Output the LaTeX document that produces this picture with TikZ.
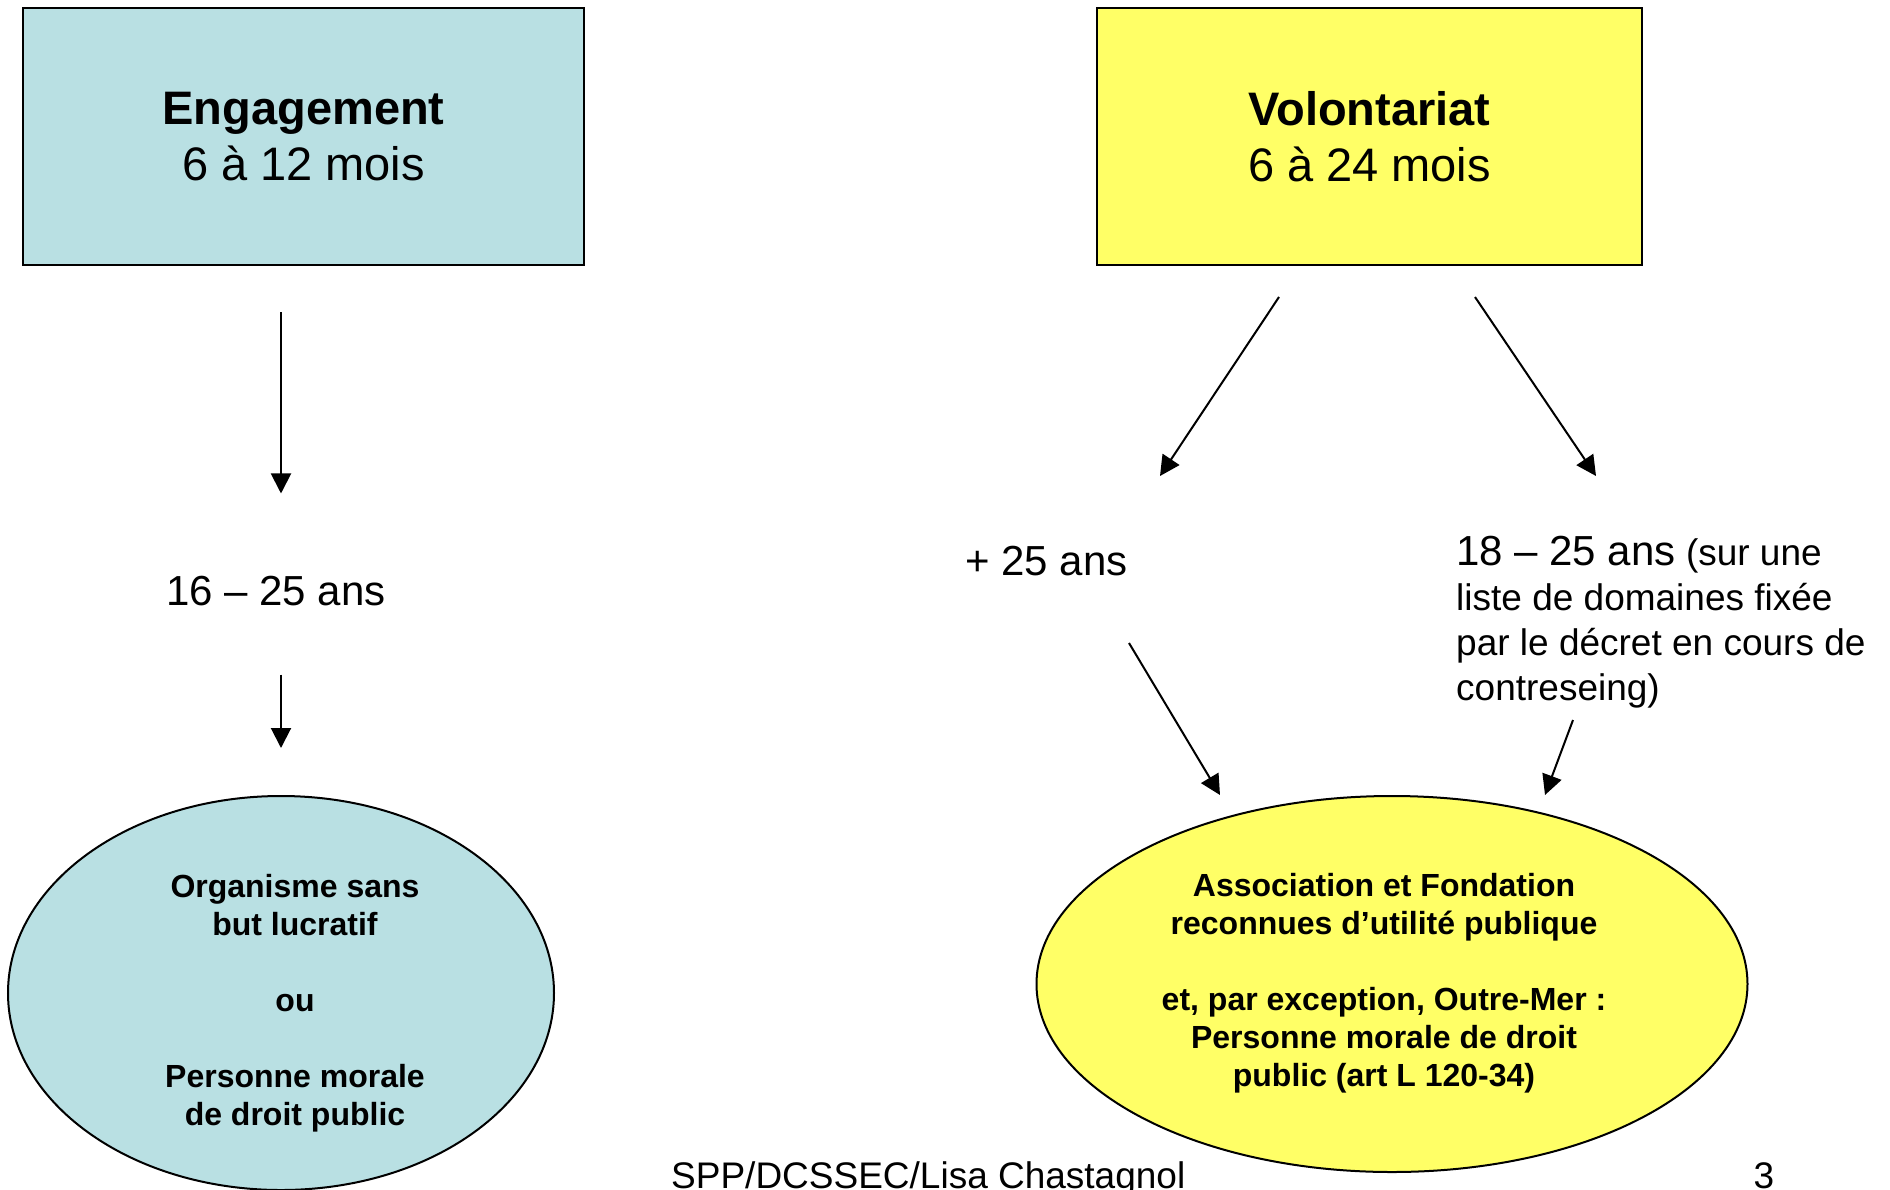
\documentclass[tikz,border=0pt]{standalone}
\usepackage{fontspec}
\setmainfont{Liberation Sans}
\usepackage{xcolor}
\usetikzlibrary{positioning, shapes.geometric, arrows.meta}
\definecolor{bleuclair}{RGB}{185,224,227}
\definecolor{jaune}{RGB}{255,255,102}

\begin{document}
\begin{tikzpicture}[x=1pt, y=-1pt,
  boite/.style={draw, line width=2pt, minimum width=#1, minimum height=257pt,
                align=center, inner sep=0pt, font=\fontsize{47}{56}\selectfont},
  bulle/.style={ellipse, draw, line width=2pt, inner sep=0pt,
                font=\fontsize{32}{38}\selectfont\bfseries},
  txt/.style={inner sep=0pt, font=\fontsize{42}{50}\selectfont},
  fl/.style={line width=2pt, -{Triangle[length=20pt,width=20pt]}}]
\useasboundingbox (0,0) rectangle (1890,1189);
\node[boite=561pt, fill=bleuclair]                                   (eng)  at (303.5,136.5) {\textbf{Engagement}\\6 à 12 mois};
\node[boite=545pt, fill=jaune, right of = eng, node distance=1066pt] (volo) {\textbf{Volontariat}\\6 à 24 mois};
\node[txt, anchor=base] (age)  at (276,605)    {16 – 25 ans};
\node[txt, anchor=base] (plus) at (1046.5,575) {+ 25 ans};
\node[txt, anchor=north west, align=left, font=\fontsize{37}{45}\selectfont] (jeunes) at (1456,536)
  {{\fontsize{42}{45}\selectfont 18 – 25 ans} (sur une\\liste de domaines fixée\\par le décret en cours de\\contreseing)};
\node[bulle, fill=bleuclair, minimum width=546pt, minimum height=394pt] (orga) at (281,993)
  {\hspace*{28pt}\begin{tabular}{@{}c@{}}Organisme sans\\but lucratif\\[38pt]ou\\[38pt]Personne morale\\de droit public\\[-22pt]\end{tabular}};
\node[bulle, fill=jaune, minimum width=711pt, minimum height=376pt] (asso) at (1392,984)
  {\begin{tabular}{@{}c@{}}Association et Fondation\\reconnues d’utilité publique\\[38pt]et, par exception, Outre-Mer :\\Personne morale de droit\\public (art L 120-34)\end{tabular}\hspace*{16pt}};
\coordinate (v1) at (1279,297);  \coordinate (v2) at (1160,476);
\coordinate (v3) at (1475,297);  \coordinate (v4) at (1596,476);
\coordinate (p1) at (1129,643);  \coordinate (p2) at (1220,795);
\coordinate (j1) at (1573,720);  \coordinate (j2) at (1545,795);
\draw[fl, shorten <=46pt, shorten >=82pt] (eng.south -| orga) -- (age.north -| orga);
\draw[fl, shorten <=69pt, shorten >=47pt] (age.south -| orga) -- (orga.north);
\draw[fl] (v1) -- (v2);
\draw[fl] (v3) -- (v4);
\draw[fl] (p1) -- (p2);
\draw[fl] (j1) -- (j2);
\node[anchor=base west, inner sep=0pt, font=\fontsize{37}{44}\selectfont] (pied) at (671,1188) {SPP/DCSSEC/Lisa Chastagnol};
\node[anchor=base, inner sep=0pt, font=\fontsize{37}{44}\selectfont]      (num)  at (1764,1188) {3};
\end{tikzpicture}
\end{document}
